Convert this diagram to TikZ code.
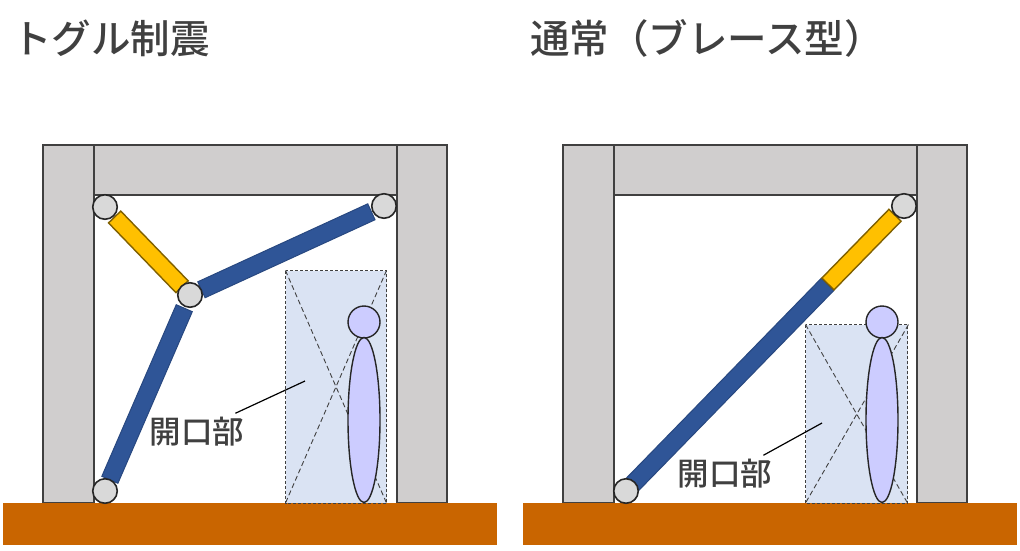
\documentclass[tikz,border=0pt]{standalone}
\usepackage{fontspec}
\usepackage{tikz}
\usetikzlibrary{
    positioning,
    calc,
    shapes.geometric
}
\setmainfont{Noto Sans CJK JP}[BoldFont={Noto Sans CJK JP Medium}]
\definecolor{FrameGray}{RGB}{208,206,206}
\definecolor{LineDark}{RGB}{64,64,64}
\definecolor{GroundOrange}{RGB}{201,101,0}
\definecolor{BarBlue}{RGB}{47,85,151}
\definecolor{BarYellow}{RGB}{255,192,0}
\definecolor{OpenBlue}{RGB}{218,227,243}
\definecolor{PersonBlue}{RGB}{204,204,255}

\begin{document}
\begin{tikzpicture}[
    x=1pt, y=-1pt,
    frame/.style={draw=LineDark, line width=1.7pt, fill=FrameGray},
    ground/.style={fill=GroundOrange},
    joint/.style={circle, draw=black!85, line width=1.6pt, fill=black!15, minimum size=24.5pt, inner sep=0pt},
    bluebar/.style={rectangle, draw=BarBlue!85!black, line width=1pt, fill=BarBlue, minimum height=17.5pt, inner sep=0pt, sloped},
    yellowbar/.style={rectangle, draw=BarYellow!50!black, line width=1.4pt, fill=BarYellow, minimum height=17pt, inner sep=0pt, sloped},
    opening/.style={draw=LineDark, dash pattern=on 3pt off 2pt, line width=.9pt, fill=OpenBlue},
    crossline/.style={draw=LineDark, dash pattern=on 5pt off 3pt, line width=.9pt},
    person/.style={draw=black!85, line width=1.4pt, fill=PersonBlue, inner sep=0pt},
    title/.style={anchor=west, inner sep=0pt, text=LineDark, font=\fontsize{39.5}{40}\selectfont\bfseries},
    label/.style={inner sep=0pt, text=LineDark, font=\fontsize{31.5}{32}\selectfont\bfseries},
    leader/.style={draw=black, line width=1.2pt}
]
\useasboundingbox (0,0) rectangle (1020,550);

% frames
\foreach \dx in {0,520} {
    \draw[frame] (94+\dx,145) rectangle (397+\dx,195);
    \draw[frame] (43+\dx,145) rectangle (94+\dx,503);
    \draw[frame] (397+\dx,145) rectangle (447+\dx,503);
    \fill[white] (95+\dx,196) rectangle (396+\dx,503);
    \fill[ground] (3+\dx,503) rectangle (497+\dx,545);
}

\node[title] (title1) at (12,38.5) {トグル制震};
\node[title] (title2) at (530,38.5) {通常（ブレース型）};

% left
\coordinate (p1) at (105,207);
\coordinate (p2) at (384,206);
\coordinate (p3) at (190,295);
\coordinate (p4) at (105,491);

\draw[opening] (285.5,270.5) rectangle (386.5,503);
\draw[crossline] (285.5,270.5) -- (386.5,503);
\draw[crossline] (386.5,270.5) -- (285.5,503);
\node[person, circle, minimum size=32pt] (head1) at (364,322) {};
\node[person, ellipse, minimum width=32pt, minimum height=165pt] (body1) at (364,420) {};

\path (p1) -- node[pos=.51, yellowbar, minimum width=97pt] (ybar1) {} (p3);
\path (p3) -- node[pos=.497, bluebar, minimum width=187pt] (bbar1) {} (p2);
\path (p3) -- node[pos=.505, bluebar, minimum width=187pt] (bbar2) {} (p4);

\node[joint] (j1) at (p1) {};
\node[joint] (j2) at (p2) {};
\node[joint] (j3) at (p3) {};
\node[joint] (j4) at (p4) {};

\node[label] (label1) at (197,432) {開口部};
\coordinate (target1) at (305,381);
\draw[leader] ([shift={(-9,-4)}]label1.north east) -- (target1);

% right
\coordinate (q1) at (904,206);
\coordinate (q2) at (626,491);

\draw[opening] (805.5,324.5) rectangle (907.5,503);
\draw[crossline] (805.5,324.5) -- (907.5,503);
\draw[crossline] (908.5,324.5) -- (805.5,503);
\node[person, circle, minimum size=32pt] (head2) at (882,322) {};
\node[person, ellipse, minimum width=32pt, minimum height=165pt] (body2) at (882,420) {};

\path (q2) -- node[pos=.372, bluebar, minimum width=281pt] (bbar3) {} (q1);
\path (q2) -- node[pos=.847, yellowbar, minimum width=96pt] (ybar2) {} (q1);

\node[joint] (j5) at (q1) {};
\node[joint] (j6) at (q2) {};

\node[label] (label2) at (725,474) {開口部};
\coordinate (target2) at (822,423);
\draw[leader] ([shift={(-9,-4)}]label2.north east) -- (target2);
\end{tikzpicture}
\end{document}
